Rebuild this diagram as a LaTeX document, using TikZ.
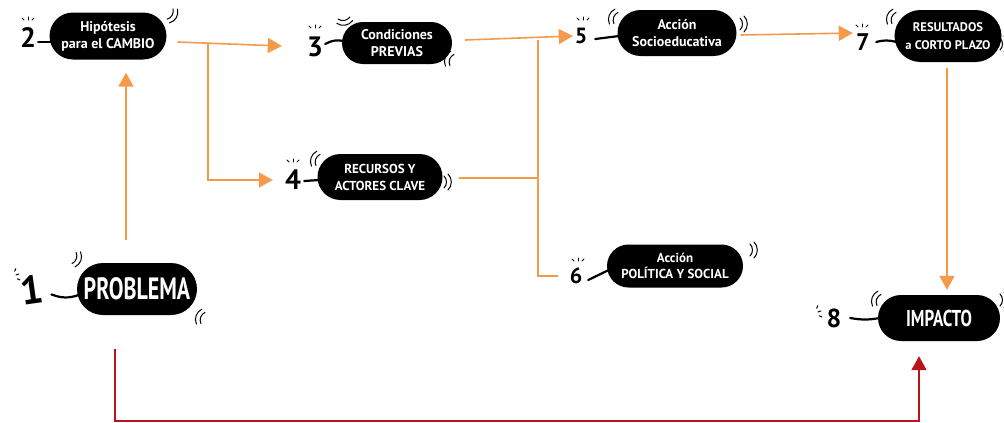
\documentclass[tikz,border=0pt]{standalone}
\usepackage{fontspec}
\setmainfont{PT Sans}
\usetikzlibrary{arrows.meta,shapes.misc,calc}

\definecolor{flowOrange}{HTML}{F5994A}
\definecolor{flowRed}{HTML}{B8141E}

\tikzset{
  blob/.style={rounded rectangle, fill=black, text=white, align=center, inner sep=0pt,
               font=\bfseries\fontsize{14}{17}\selectfont},
  num/.style={inner sep=0pt, minimum width=16pt, minimum height=26pt, text=black,
              font=\bfseries\fontsize{28}{28}\selectfont},
  tail/.style={draw=black, line width=2.2pt, line cap=round},
  oline/.style={draw=flowOrange, line width=1.6pt},
  oarrow/.style={oline, -{Triangle[length=14pt,width=15pt]}},
  rarrow/.style={draw=flowRed, line width=1.8pt, -{Triangle[length=14pt,width=15pt]}},
  tick/.style={draw=black, line width=1pt, line cap=round},
  pics/swish/.style={code={
    \draw[tick] (0,-6) to[bend left=45] (0,6);
    \draw[tick] (4,-8) to[bend left=45] (4,8);
  }},
  pics/spark/.style={code={
    \draw[tick] (-6,-2) -- (-4,0);
    \draw[tick] (0,-3) -- (0,0);
    \draw[tick] (6,-2) -- (4,0);
  }},
}

\begin{document}
\begin{tikzpicture}[x=1pt,y=-1pt]
\useasboundingbox (0,0) rectangle (1004,423);

% speech bubbles
\node[blob, minimum width=120pt, minimum height=52pt,
      font=\bfseries\fontsize{22}{24}\selectfont] (b1) at (137,289) {\scalebox{1}[1.4]{PROBLEMA}};
\node[blob, minimum width=117pt, minimum height=47pt] (b2) at (108,36) {Hipótesis\\para el CAMBIO};
\node[blob, minimum width=110pt, minimum height=42pt] (b3) at (397,43) {Condiciones\\PREVIAS};
\node[blob, minimum width=125pt, minimum height=46pt,
      font=\bfseries\fontsize{13}{17}\selectfont] (b4) at (380,177) {RECURSOS Y\\ACTORES CLAVE};
\node[blob, minimum width=119pt, minimum height=46pt] (b5) at (677,33) {Acción\\Socioeducativa};
\node[blob, minimum width=136pt, minimum height=43pt,
      font=\bfseries\fontsize{13}{16}\selectfont] (b6) at (675,266) {Acción\\POLÍTICA Y SOCIAL};
\node[blob, minimum width=107pt, minimum height=52pt,
      font=\bfseries\fontsize{12.5}{18}\selectfont] (b7) at (948,36) {RESULTADOS\\a CORTO PLAZO};
\node[blob, minimum width=122pt, minimum height=46pt,
      font=\bfseries\fontsize{17}{20}\selectfont] (b8) at (939,318) {\scalebox{1}[1.35]{IMPACTO}};

% step numbers
\node[num, font=\bfseries\fontsize{40}{40}\selectfont, rotate=8] (n1) at (32,290) {1};
\node[num] (n2) at (28,38)  {2};
\node[num] (n3) at (315,47) {3};
\node[num] (n4) at (293,180) {4};
\node[num, font=\bfseries\fontsize{22}{22}\selectfont] (n5) at (581,36) {5};
\node[num, font=\bfseries\fontsize{22}{22}\selectfont] (n6) at (576,276) {6};
\node[num, font=\bfseries\fontsize{24}{24}\selectfont] (n7) at (863,42) {7};
\node[num, font=\bfseries\fontsize{26}{26}\selectfont] (n8) at (834,318) {8};

% bubble tails
\draw[tail] (b1.west) ++(2,6) to[bend left=20] ($(n1.east)+(8,6)$);
\draw[tail] (b2.west) ++(2,6) -- ($(n2.east)+(2,4)$);
\draw[tail] (b3.west) ++(2,-2) to[bend right=20] ($(n3.east)+(2,-3)$);
\draw[tail] (b4.west) ++(2,3) -- ($(n4.east)+(3,1)$);
\draw[tail] (b5.west) ++(2,3) -- ($(n5.east)+(6,3)$);
\draw[tail] (b6.west) ++(2,4) -- ($(n6.east)+(4,4)$);
\draw[tail] (b7.west) ++(2,6) to[bend right=15] ($(n7.east)+(5,0)$);
\draw[tail] (b8.west) ++(2,0) to[bend left=10] ($(n8.east)+(8,0)$);

% hand-drawn accents
\pic[rotate=-20] at (74,258) {swish};
\pic[rotate=160] at (203,318) {swish};
\pic[rotate=-30] at (170,14) {swish};
\pic[rotate=-80] at (344,18) {swish};
\pic[rotate=160] at (452,60) {swish};
\pic[rotate=160] at (318,160) {swish};
\pic at (444,182) {swish};
\pic[rotate=160] at (616,18) {swish};
\pic at (740,24) {swish};
\pic at (750,250) {swish};
\pic[rotate=160] at (894,18) {swish};
\pic at (1000,44) {swish};
\pic[rotate=160] at (879,300) {swish};
\pic at (1000,300) {swish};
\pic at (28,20) {spark};
\pic at (315,28) {spark};
\pic at (293,162) {spark};
\pic at (583,20) {spark};
\pic at (578,261) {spark};
\pic at (862,27) {spark};
\pic[rotate=-70] at (818,312) {spark};
\pic[rotate=-70] at (16,275) {spark};

% flow connectors
\coordinate (up1) at (126,240);
\draw[oarrow, shorten >=13pt] (up1) -- (up1 |- b2.south);
\draw[oarrow, shorten >=25pt] ($(b2.east)+(11,6)$) -- (n3.west);
\coordinate (fork) at (208,42.5);
\draw[oarrow, shorten >=12pt] (fork) |- (n4.west);
\draw[oarrow] ($(b3.east)+(13,-3)$) -- (n5.west);
\coordinate (jt) at (538,40);
\draw[oline] ($(b4.east)+(16,1)$) -| (jt);
\draw[oline, shorten >=10pt] (jt) |- (n6.west);
\draw[oarrow, shorten >=2pt] ($(b5.east)+(4,2)$) -- ($(n7.west)+(0,-9)$);
\draw[oarrow, shorten >=5pt] ($(b7.south)+(-1,6)$) coordinate (v7) -- (v7 |- b8.north);
\draw[rarrow] ($(b1.south)+(-22,34)$) -- ++(0,72) -| ($(b8.south)+(-20,15)$);
\end{tikzpicture}
\end{document}
